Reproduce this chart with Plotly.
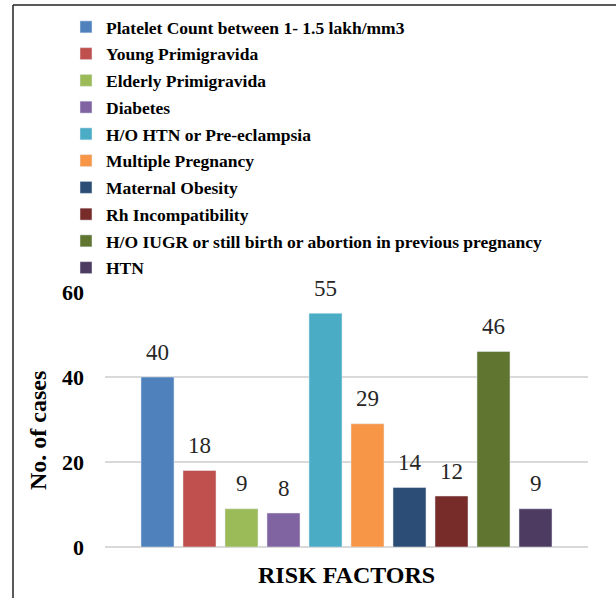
import plotly.graph_objects as go

series_names = [
    "Platelet Count between 1- 1.5 lakh/mm3",
    "Young Primigravida",
    "Elderly Primigravida",
    "Diabetes",
    "H/O HTN or Pre-eclampsia",
    "Multiple Pregnancy",
    "Maternal Obesity",
    "Rh Incompatibility",
    "H/O IUGR or still birth or abortion in previous pregnancy",
    "HTN",
]
values = [40, 18, 9, 8, 55, 29, 14, 12, 46, 9]
colors = ["#4F81BD", "#C0504D", "#9BBB59", "#8064A2", "#4BACC6",
          "#F79646", "#2C4D75", "#772C2A", "#5F7530", "#4D3B62"]
y_ticks = [0, 20, 40, 60]
x_title = "RISK FACTORS"
y_title = "No. of cases"

W, H = 616, 598
ML, MR, MT, MB = 105, 28, 292, 51
pw, ph = W - ML - MR, H - MT - MB
SERIF = "Liberation Serif, Times New Roman, serif"

def px(x):
    return (x - ML) / pw

def py(y):
    return (H - MB - y) / ph

fig = go.Figure()
for i, (name, v, c) in enumerate(zip(series_names, values, colors)):
    fig.add_trace(go.Bar(
        x=[name], y=[v], name=name, marker_color=c, width=0.786,
        legendgroup=f"g{i}", hoverinfo="x+y",
    ))

annotations = []
for name, v in zip(series_names, values):
    annotations.append(dict(
        x=name, y=v, xref="x", yref="y", text=str(v), showarrow=False,
        yshift=25, yanchor="middle",
        font=dict(family=SERIF, size=23, color="#262626"),
    ))
annotations.append(dict(
    x=px(346), y=py(575), xref="paper", yref="paper", text=f"<b>{x_title}</b>",
    showarrow=False, xanchor="center", yanchor="middle",
    font=dict(family=SERIF, size=24, color="black"),
))
annotations.append(dict(
    x=px(38), y=py(431), xref="paper", yref="paper", text=f"<b>{y_title}</b>",
    showarrow=False, xanchor="center", yanchor="middle", textangle=-90,
    font=dict(family=SERIF, size=24, color="black"),
))

fig.update_layout(
    width=W, height=H,
    margin=dict(l=ML, r=MR, t=MT, b=MB, autoexpand=False),
    paper_bgcolor="white", plot_bgcolor="white",
    barmode="overlay",
    font=dict(family=SERIF, color="black"),
    showlegend=True,
    legend=dict(
        x=px(66), y=py(9), xanchor="left", yanchor="top",
        font=dict(family=SERIF, size=17.5, color="black", weight="bold"),
        tracegroupgap=1, bgcolor="rgba(0,0,0,0)",
    ),
    xaxis=dict(showticklabels=False, showgrid=False, zeroline=False, showline=False,
               range=[-1.25, 10.25], automargin=False),
    yaxis=dict(range=[0, 60], tickvals=y_ticks, showgrid=True, gridcolor="#D9D9D9",
               gridwidth=1.5, zeroline=True, zerolinecolor="#D9D9D9", zerolinewidth=1.5,
               tickfont=dict(family=SERIF, size=22, weight="bold"), ticks="",
               ticklabelstandoff=20, automargin=False),
    annotations=annotations,
    shapes=[
        dict(type="line", xref="paper", yref="paper", x0=px(13), x1=px(13),
             y0=py(5), y1=py(600), line=dict(color="#222", width=1.5)),
        dict(type="line", xref="paper", yref="paper", x0=px(13), x1=px(620),
             y0=py(5), y1=py(5), line=dict(color="#222", width=1.5)),
    ],
)

fig.write_html("out.html", config={"displayModeBar": False},
               post_script="document.body.style.margin='0';")
